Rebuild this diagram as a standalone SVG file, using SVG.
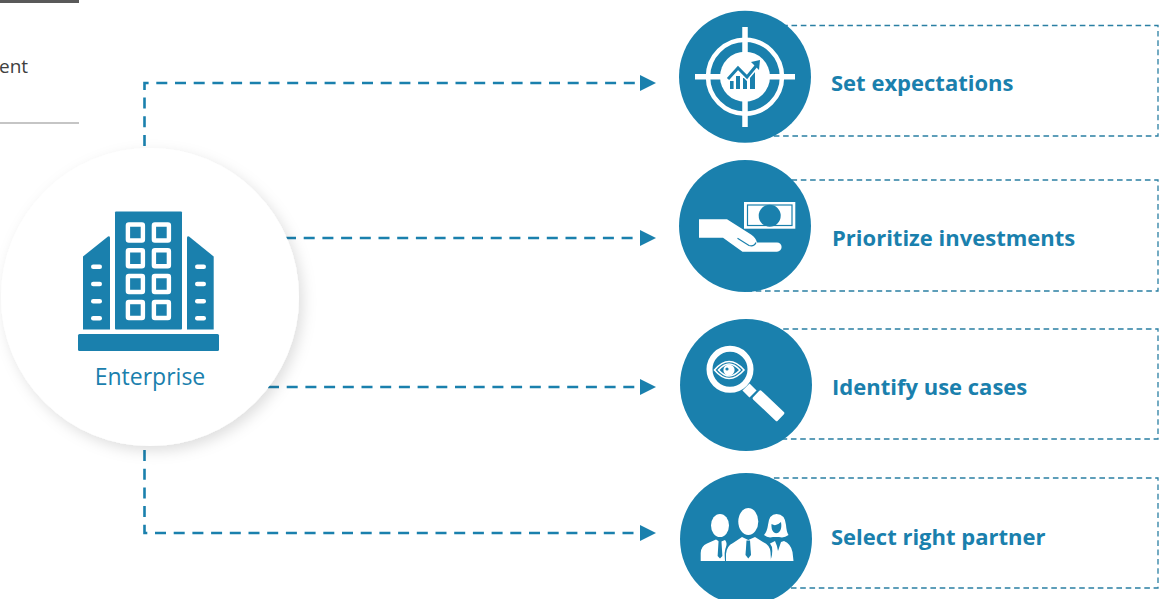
<svg xmlns="http://www.w3.org/2000/svg" width="1170" height="599" viewBox="0 0 1170 599">
<style>
.c{fill:#1a80ad}
.w{fill:#fff}
.lbl{font-family:"Open Sans","Liberation Sans",sans-serif;font-weight:700;font-size:22px;fill:#1a80ad}
.conn{fill:none;stroke:#1a80ad;stroke-width:2.6;stroke-dasharray:11 7.7}
.box{fill:none;stroke:#2a7fa3;stroke-width:1.3;stroke-dasharray:5.6 3.7}
.wl{fill:none;stroke:#fff;stroke-linecap:butt}
.bl{fill:none;stroke:#1a80ad}
</style>
<defs>
<filter id="sh" x="-15%" y="-15%" width="130%" height="130%"><feDropShadow dx="4" dy="5" stdDeviation="7" flood-color="#000" flood-opacity=".13"/></filter>
<polygon id="ah" points="0,-8 16,0 0,8" class="c"/>
</defs>
<rect width="1170" height="599" fill="#fff"/>
<g id="header">
<rect x="0" y="0" width="79" height="3" fill="#595959"/>
<text x="-1" y="73" font-family="'Open Sans','Liberation Sans',sans-serif" font-size="19" fill="#404040">ent</text>
<rect x="0" y="122.500" width="79" height="1" fill="#8c8c8c"/>
</g>
<g id="connectors">
<path class="conn" d="M144.500 146V83H640"/>
<path class="conn" d="M285 238H640"/>
<path class="conn" d="M268 387H640"/>
<path class="conn" d="M144.500 450V533H640"/>
<use href="#ah" x="640" y="83"/>
<use href="#ah" x="640" y="238"/>
<use href="#ah" x="640" y="387"/>
<use href="#ah" x="640" y="533"/>
</g>
<g id="enterprise">
<circle cx="150" cy="297" r="149" fill="#fff" filter="url(#sh)"/>
<rect class="c" x="115" y="211.500" width="67" height="118" rx="1"/>
<g fill="none" stroke="#fff" stroke-width="4.400">
<rect x="127.900" y="224.500" width="15" height="16" rx="1"/><rect x="153.900" y="224.500" width="15" height="16" rx="1"/>
<rect x="127.900" y="250.200" width="15" height="16" rx="1"/><rect x="153.900" y="250.200" width="15" height="16" rx="1"/>
<rect x="127.900" y="276" width="15" height="16" rx="1"/><rect x="153.900" y="276" width="15" height="16" rx="1"/>
<rect x="127.900" y="302" width="15" height="16" rx="1"/><rect x="153.900" y="302" width="15" height="16" rx="1"/>
</g>
<path class="c" d="M83 256.500L108 236.500Q110 235.500 110 238V329.500H83Z"/>
<path class="c" d="M213.700 256.500L189 236.500Q187 235.500 187 238V329.500H213.700Z"/>
<g class="w">
<rect x="91" y="264.500" width="11" height="4.400" rx="2.200"/><rect x="91" y="281.800" width="11" height="4.400" rx="2.200"/><rect x="91" y="299" width="11" height="4.400" rx="2.200"/><rect x="91" y="316" width="11" height="4.400" rx="2.200"/>
<rect x="195" y="264.500" width="11" height="4.400" rx="2.200"/><rect x="195" y="281.800" width="11" height="4.400" rx="2.200"/><rect x="195" y="299" width="11" height="4.400" rx="2.200"/><rect x="195" y="316" width="11" height="4.400" rx="2.200"/>
</g>
<rect class="c" x="78" y="334" width="141" height="17" rx="1.500"/>
<text x="150" y="385" text-anchor="middle" font-family="'Open Sans','Liberation Sans',sans-serif" font-size="23" fill="#1a80ad">Enterprise</text>
</g>
<g id="set-expectations">
<rect class="box" x="745" y="25.500" width="413" height="110.500"/>
<circle class="c" cx="745" cy="76.700" r="66"/>
<circle class="wl" cx="745" cy="76.700" r="37" stroke-width="4.500"/>
<circle class="w" cx="745" cy="76.700" r="25"/>
<path class="wl" stroke-width="5.500" d="M695 76.700H721M769 76.700H795M745 27V53M745 101V127"/>
<g class="c"><rect x="730" y="81" width="3.600" height="8"/><rect x="736" y="76" width="4" height="13"/><rect x="743" y="78" width="4" height="11"/><rect x="750" y="71" width="5" height="18"/></g>
<path class="wl" stroke-width="4.500" d="M726 81L738 69L747 78L758 65"/>
<path class="bl" stroke-width="3" d="M728 79L738 68L747 77L756 66"/>
<polygon class="c" points="751,62 760,60 759,70"/>
</g>
<g id="prioritize-investments">
<rect class="box" x="745" y="180" width="413" height="111"/>
<circle class="c" cx="745" cy="226" r="66"/>
<rect class="w" x="744" y="202" width="51.300" height="26.700"/>
<rect x="747.500" y="205" width="44.500" height="20.500" fill="#fff" stroke="#1a80ad" stroke-width="1.200"/>
<circle class="c" cx="769.700" cy="215.700" r="11"/>
<path class="w" d="M699 219.300H727L751 234.500Q756 238 757 242.500H777A4.600 4.600 0 0 1 777 251.700H742.500L723 237.700H699Z"/>
<path class="bl" stroke-width="1.200" d="M737.500 238.300L749 245.500Q754 247 756 242.500"/>
</g>
<g id="identify-use-cases">
<rect class="box" x="746" y="329" width="412" height="110"/>
<circle class="c" cx="746" cy="385" r="66"/>
<circle class="wl" cx="730" cy="369.300" r="20.500" stroke-width="6"/>
<path class="wl" stroke-width="10" d="M746 387L753 394"/>
<rect class="w" x="-17" y="-6" width="34" height="12" rx="1.500" transform="translate(768.500 405.700) rotate(43.500)"/>
<path class="wl" stroke-width="1.600" d="M714.500 370Q729 353 744 370Q729 387 714.500 370Z"/>
<path class="wl" stroke-width="1.600" d="M718.500 370Q729 358 740 370Q729 382 718.500 370Z"/>
<circle class="w" cx="729" cy="370" r="5.600"/>
<circle class="c" cx="727" cy="369" r="1.600"/>
</g>
<g id="select-right-partner">
<rect class="box" x="746" y="478" width="412" height="110"/>
<circle class="c" cx="746" cy="539" r="66"/>
<ellipse class="w" cx="720" cy="525.500" rx="9" ry="11.500"/>
<path class="w" d="M700.700 561V553Q701 546 707 543.500L716 539.500L720 542L725 540Q727.500 543 726 547Q724 551 725 561Z"/>
<path class="c" d="M718.600 540.500H721.400L722.400 556L720 558.500L717.600 556Z"/>
<path class="w" d="M764 535Q767 532 768 525Q769 514 776.500 514Q785 514 786 525Q786.500 532 788.500 535Q784 538.500 779 537H773Q768 538.500 764 535Z"/>
<path class="c" d="M771.500 524Q776 527 781 522Q782 528 780 531Q777 535 773.500 532Q771 529 771.500 524Z"/>
<path class="w" d="M770 561Q773 555 772 547L770 543.500L775 541Q777 545 778 551L781 542L784 541Q791 544 792.500 552L793.500 561Z"/>
<ellipse class="w" cx="748.300" cy="521.500" rx="10" ry="13.500"/>
<path class="w" d="M726 561V554Q726.500 546 733 543L742 537L748.300 540L755 537L763 542Q770 545 770.500 552L771 561Z"/>
<path class="c" d="M746.500 540.500H750L751 555L748.300 558.500L745.500 555Z"/>
</g>
<text class="lbl" x="831" y="91">Set expectations</text>
<text class="lbl" x="832" y="246">Prioritize investments</text>
<text class="lbl" x="832" y="395">Identify use cases</text>
<text class="lbl" x="831" y="545">Select right partner</text>
</svg>
